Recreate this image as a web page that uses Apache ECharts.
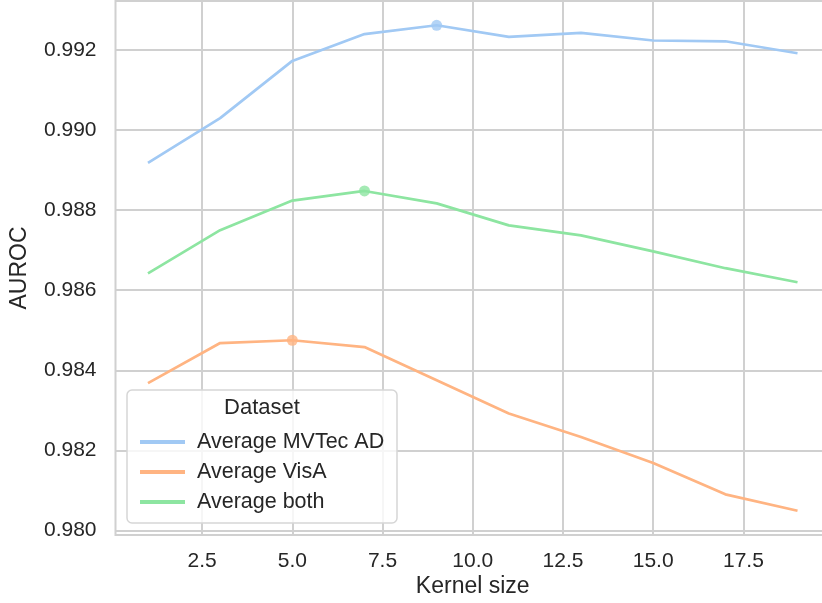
<!DOCTYPE html>
<html>
<head>
<meta charset="utf-8">
<script src="https://cdn.jsdelivr.net/npm/echarts@6/dist/echarts.min.js"></script>
<style>
html,body{margin:0;padding:0;background:#fff;}
#chart{width:822px;height:603px;}
</style>
</head>
<body>
<div id="chart"></div>
<script>
// Data
const kernelSizes = [1, 3, 5, 7, 9, 11, 13, 15, 17, 19];
const mvtec = [0.98918, 0.99030, 0.99173, 0.99240, 0.99262, 0.99233, 0.99243, 0.99224, 0.99222, 0.99192];
const visa  = [0.98368, 0.98468, 0.98475, 0.98458, 0.98375, 0.98292, 0.98233, 0.98168, 0.98090, 0.98049];
const both  = [0.98642, 0.98750, 0.98824, 0.98848, 0.98817, 0.98762, 0.98737, 0.98697, 0.98655, 0.98620];
const seriesNames = ['Average MVTec AD', 'Average VisA', 'Average both'];
const seriesColors = ['#a1c9f4', '#ffb482', '#8de5a1'];
const yTicks = [0.980, 0.982, 0.984, 0.986, 0.988, 0.990, 0.992];
const xTicks = [2.5, 5.0, 7.5, 10.0, 12.5, 15.0, 17.5];

const W = 822, H = 603;
// main plot box (pixels)
const PL = 115.5, PR = 830, PT = 1, PB = 535;

const allSeries = [mvtec, visa, both];
const allY = allSeries.flat();
const yMinD = Math.min(...allY), yMaxD = Math.max(...allY);
const yPad = (yMaxD - yMinD) * 0.05;
const xPad = (kernelSizes[kernelSizes.length - 1] - kernelSizes[0]) * 0.05;
const xMin = kernelSizes[0] - xPad, xMax = kernelSizes[kernelSizes.length - 1] + xPad;
const yMin = yMinD - yPad, yMax = yMaxD + yPad;
const px = x => PL + (x - xMin) / (xMax - xMin) * (PR - PL);
const py = y => PB - (y - yMin) / (yMax - yMin) * (PB - PT);

const gridColor = '#d0d0d0';
const textColor = '#262626';
const FONT = 'Liberation Sans, Arial, sans-serif';

const series = [];
allSeries.forEach((vals, i) => {
  series.push({
    name: seriesNames[i],
    type: 'line',
    xAxisIndex: 0, yAxisIndex: 0,
    data: kernelSizes.map((k, j) => [k, vals[j]]),
    showSymbol: false,
    symbol: 'none',
    lineStyle: { width: 2.7, color: seriesColors[i] },
    itemStyle: { color: seriesColors[i] },
    z: 3
  });
  let best = 0;
  vals.forEach((v, j) => { if (v > vals[best]) best = j; });
  series.push({
    type: 'scatter',
    xAxisIndex: 0, yAxisIndex: 0,
    data: [[kernelSizes[best], vals[best]]],
    symbolSize: 11,
    itemStyle: { color: seriesColors[i] },
    z: 4,
    silent: true
  });
});

const yT0 = yTicks[0], yT1 = yTicks[yTicks.length - 1];
const xT0 = xTicks[0], xT1 = xTicks[xTicks.length - 1];

const chart = echarts.init(document.getElementById('chart'), null, { renderer: 'canvas' });
chart.setOption({
  backgroundColor: '#ffffff',
  animation: false,
  grid: [
    // main data grid
    { left: PL, right: W - PR, top: PT, bottom: H - PB, containLabel: false, outerBoundsMode: 'none',
      show: true, borderColor: gridColor, borderWidth: 2, backgroundColor: 'transparent' },
    // y tick grid
    { left: PL, right: W - PR, top: py(yT1), bottom: H - py(yT0), containLabel: false, outerBoundsMode: 'none' },
    // x tick grid
    { left: px(xT0), right: W - px(xT1), top: PT, bottom: H - PB, containLabel: false, outerBoundsMode: 'none' }
  ],
  xAxis: [
    {
      gridIndex: 0, type: 'value', min: xMin, max: xMax,
      name: 'Kernel size', nameLocation: 'middle', nameGap: 40,
      nameTextStyle: { fontFamily: FONT, fontSize: 23, color: textColor },
      axisLine: { show: false }, axisTick: { show: false }, axisLabel: { show: false }, splitLine: { show: false }
    },
    { gridIndex: 1, type: 'value', min: xMin, max: xMax, show: false },
    {
      gridIndex: 2, type: 'value', min: xT0, max: xT1, interval: xTicks[1] - xTicks[0],
      axisLine: { show: false }, axisTick: { show: false },
      axisLabel: { margin: 16, fontFamily: FONT, fontSize: 21, color: textColor,
                   formatter: v => v.toFixed(1) },
      splitLine: { show: true, lineStyle: { color: gridColor, width: 2 } }
    }
  ],
  yAxis: [
    {
      gridIndex: 0, type: 'value', min: yMin, max: yMax,
      name: 'AUROC', nameLocation: 'middle', nameGap: 84,
      nameTextStyle: { fontFamily: FONT, fontSize: 23, color: textColor },
      axisLine: { show: false }, axisTick: { show: false }, axisLabel: { show: false }, splitLine: { show: false }
    },
    {
      gridIndex: 1, type: 'value', min: yT0, max: yT1, interval: yTicks[1] - yTicks[0],
      axisLine: { show: false }, axisTick: { show: false },
      axisLabel: { margin: 19, fontFamily: FONT, fontSize: 21, color: textColor,
                   formatter: v => v.toFixed(3) },
      splitLine: { show: true, lineStyle: { color: gridColor, width: 2 } }
    },
    { gridIndex: 2, type: 'value', min: yMin, max: yMax, show: false }
  ],
  legend: {
    data: seriesNames,
    orient: 'vertical',
    left: 135,
    top: 426,
    itemWidth: 45,
    itemHeight: 4,
    itemGap: 8,
    icon: 'rect',
    z: 10,
    textStyle: { fontFamily: FONT, fontSize: 21.5, color: textColor, padding: [0, 0, 0, 7] }
  },
  graphic: [
    { type: 'rect', z: 8, shape: { x: 127, y: 390, width: 270, height: 133, r: 5 },
      style: { fill: 'rgba(255,255,255,0.8)', stroke: '#d6d6d6', lineWidth: 1.5 } },
    { type: 'text', z: 9, style: { x: 262, y: 408, text: 'Dataset', align: 'center', verticalAlign: 'middle',
      font: '22px Liberation Sans, Arial, sans-serif', fill: textColor } }
  ],
  series: series
});
</script>
</body>
</html>
